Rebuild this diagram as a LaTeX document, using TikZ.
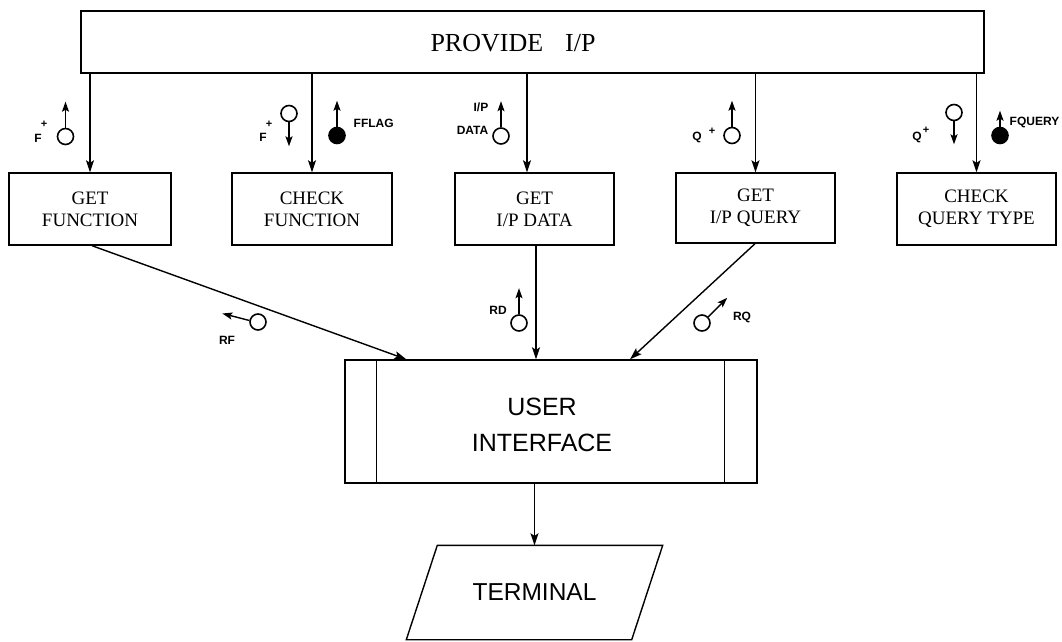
\documentclass[tikz,border=0pt]{standalone}
\usepackage{fontspec}
\setmainfont{Liberation Serif}
\setsansfont{Liberation Sans}
\usetikzlibrary{arrows.meta}
\begin{document}
\begin{tikzpicture}[x=1pt,y=-1pt,line width=1.4pt,
  serifbox/.style={draw, rectangle, inner sep=0pt, align=center, font=\fontsize{19}{22}\selectfont},
  arr/.style={-{Stealth[length=12pt,width=8pt,inset=2.5pt]}},
  sarr/.style={-{Stealth[length=10pt,width=7pt,inset=2pt]}},
  tok/.style={draw, circle, inner sep=0pt, minimum size=16pt, line width=1.6pt},
  ftok/.style={tok, fill=black},
  lab/.style={font=\sffamily\bfseries\fontsize{12}{14}\selectfont, inner sep=0pt},
  plus/.style={font=\sffamily\bfseries\fontsize{11}{12}\selectfont, inner sep=0pt},
]
\useasboundingbox (0,0) rectangle (1062,641);

% main boxes
\node[draw, minimum width=903, minimum height=62, inner sep=0pt] (prov) at (532.5,42) {};
\node[font=\fontsize{26}{28}\selectfont, inner sep=0pt] (provtxt) at (513,43) {PROVIDE\hspace{22pt}I/P};

\node[serifbox, minimum width=162, minimum height=72] (gf) at (90,209) {GET\\FUNCTION};
\node[serifbox, minimum width=160, minimum height=72] (cf) at (312,209) {CHECK\\FUNCTION};
\node[serifbox, minimum width=159, minimum height=72] (gd) at (534.5,209) {GET\\I/P DATA};
\node[serifbox, minimum width=159, minimum height=70] (gq) at (755.5,208) {GET\\I/P QUERY};
\node[serifbox, minimum width=159, minimum height=72] (cq) at (976.5,209) {CHECK\\QUERY TYPE};

\node[draw, minimum width=412, minimum height=123, inner sep=0pt] (ui) at (551,421.5) {};
\node[font=\sffamily\fontsize{25}{36}\selectfont, align=center, inner sep=0pt] (uitxt) at (542,425) {USER\\INTERFACE};
\draw ([xshift=32]ui.north west) -- ([xshift=32]ui.south west);
\draw ([xshift=-33]ui.north east) -- ([xshift=-33]ui.south east);

\node[minimum width=224, minimum height=93, inner sep=0pt,
  font=\sffamily\fontsize{24.5}{28}\selectfont] (term) at (534.5,592.5) {TERMINAL};
\draw ([xshift=15.5]term.north west) -- ([xshift=15.5]term.north east)
  -- ([xshift=-15.5]term.south east) -- ([xshift=-15.5]term.south west) -- cycle;

% connectors
\coordinate (gdin) at ([xshift=-7.5]gd.north);
\coordinate (gdout) at ([xshift=1.5]gd.south);
\draw[arr] (gf.north |- prov.south) -- (gf.north);
\draw[arr] (cf.north |- prov.south) -- (cf.north);
\draw[arr] (gdin |- prov.south) -- (gdin);
\draw[arr] (gq.north |- prov.south) -- (gq.north);
\draw[arr] (cq.north |- prov.south) -- (cq.north);

\draw[arr] ([xshift=2]gf.south) -- ([xshift=62]ui.north west);
\draw[arr] (gdout) -- (gdout |- ui.north);
\draw[arr] ([xshift=-0.5]gq.south) -- ([xshift=79]ui.north);
\draw[arr] (term.north |- ui.south) -- (term.north);

% tokens: GET FUNCTION
\node[tok] (t1) at (65.5,136.5) {};
\draw[sarr] (t1.north) -- ++(0,-26);
\node[lab] (f1) at (38,138) {F};
\node[plus] (p1) at (44,124) {+};

% CHECK FUNCTION
\node[tok] (t2) at (289,113.5) {};
\draw[sarr] (t2.south) -- ++(0,24);
\node[lab] (f2) at (263,137) {F};
\node[plus] (p2) at (269,124) {+};
\node[ftok] (t3) at (337,135.5) {};
\draw[sarr] (t3.north) -- ++(0,-26);
\node[lab, anchor=west] (l3) at (353,123) {FFLAG};

% GET I/P DATA
\node[tok] (t4) at (501,136) {};
\draw[sarr] (t4.north) -- ++(0,-26);
\node[lab, align=right, anchor=east, font=\sffamily\bfseries\fontsize{12}{23}\selectfont] (l4) at (489,118.5) {I/P\\DATA};

% GET I/P QUERY
\node[tok] (t5) at (732,135.5) {};
\draw[sarr] (t5.north) -- ++(0,-26);
\node[lab] (q5) at (697,137) {Q};
\node[plus] (p5) at (712,131) {+};

% CHECK QUERY TYPE
\node[lab] (q6) at (917,137) {Q};
\node[plus] (p6) at (926,130) {+};
\node[tok] (t6) at (954,112.5) {};
\draw[sarr] (t6.south) -- ++(0,23);
\node[ftok] (t7) at (1000,135.5) {};
\draw[sarr] (t7.north) -- ++(0,-16);
\node[lab, anchor=west] (l7) at (1009,122) {FQUERY};

% return flows
\node[tok] (t8) at (258,322) {};
\draw[sarr] (t8.170) -- ++(-27,-7);
\node[lab] (l8) at (227,340) {RF};

\node[tok] (t9) at (519,323) {};
\draw[sarr] (t9.north) -- ++(0,-26);
\node[lab] (l9) at (498,310) {RD};

\node[tok] (t10) at (702,323) {};
\draw[sarr] (t10.45) -- ++(19,-19);
\node[lab] (l10) at (742,317) {RQ};
\end{tikzpicture}
\end{document}
